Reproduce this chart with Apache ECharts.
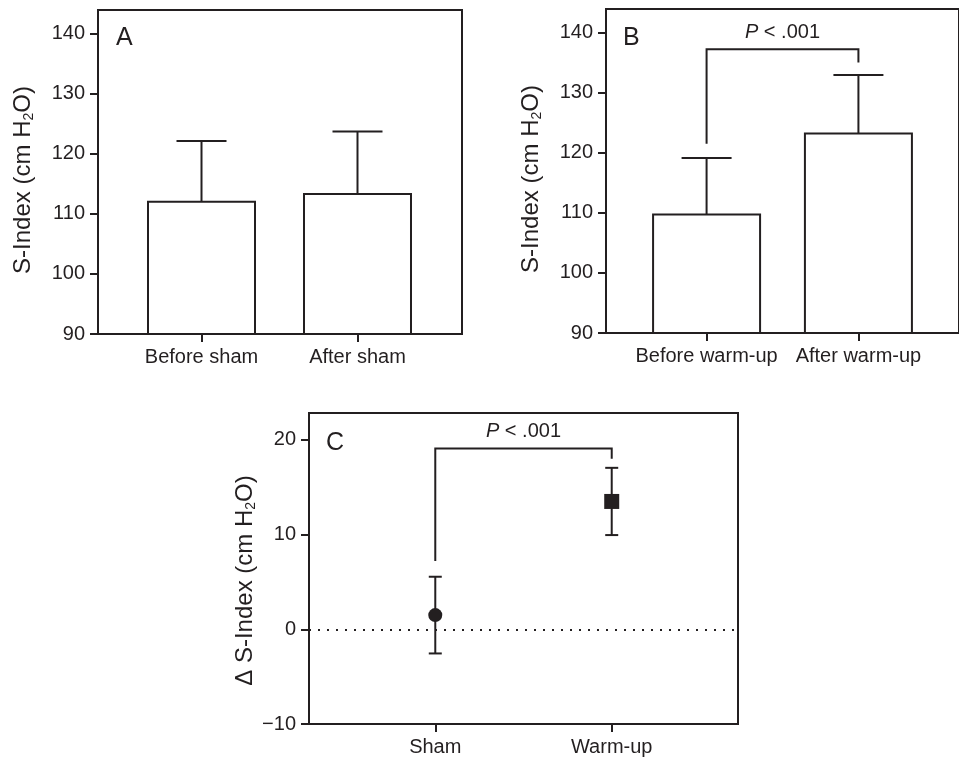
<!DOCTYPE html>
<html>
<head>
<meta charset="utf-8">
<script src="https://cdn.jsdelivr.net/npm/echarts@6/dist/echarts.min.js"></script>
<style>
  html, body { margin: 0; padding: 0; background: #fff; }
  #chart { width: 959px; height: 757px; }
</style>
</head>
<body>
<div id="chart"></div>
<script>
// panel A
var categoriesA = ['Before sham', 'After sham'];
var meanA = [112.0, 113.3];
var sdA = [10.1, 10.4];
// panel B
var categoriesB = ['Before warm-up', 'After warm-up'];
var meanB = [109.7, 123.2];
var sdB = [9.4, 9.7];
var bracketB = [121.5, 137.2, 135.0];   // left end, top, right end
// panel C
var categoriesC = ['Sham', 'Warm-up'];
var meanC = [1.5, 13.5];
var errC = [4.05, 3.55];
var bracketC = [7.2, 19.1, 18.0];
// tick labels
var yTicksAB = [90, 100, 110, 120, 130, 140];
var yTicksC = [-10, 0, 10, 20];

var INK = '#231f20';
var FONT = '"Liberation Sans", Arial, Helvetica, sans-serif';

var chart = echarts.init(document.getElementById('chart'));

function barRender(baseVal) {
    return function (params, api) {
        var x = api.value(0), v = api.value(1), e = api.value(2);
        var top = api.coord([x, v]);
        var base = api.coord([x, baseVal]);
        var errTop = api.coord([x, v + e]);
        var half = 53.5;
        var st = { stroke: INK, lineWidth: 2, fill: null };
        return {
            type: 'group',
            children: [
                { type: 'line', shape: { x1: top[0], y1: top[1], x2: errTop[0], y2: errTop[1] }, style: st },
                { type: 'line', shape: { x1: top[0] - 25, y1: errTop[1], x2: top[0] + 25, y2: errTop[1] }, style: st },
                { type: 'rect', shape: { x: top[0] - half, y: top[1], width: half * 2, height: base[1] - top[1] },
                  style: { fill: '#fff', stroke: INK, lineWidth: 2 } }
            ]
        };
    };
}

function bracketRender(params, api) {
    var p1 = api.coord([api.value(0), api.value(2)]);
    var p2 = api.coord([api.value(0), api.value(3)]);
    var p3 = api.coord([api.value(1), api.value(3)]);
    var p4 = api.coord([api.value(1), api.value(4)]);
    return {
        type: 'group',
        children: [
            { type: 'polyline', shape: { points: [p1, p2, p3, p4] },
              style: { stroke: INK, lineWidth: 2, fill: null } },
            { type: 'text', x: (p2[0] + p3[0]) / 2, y: p2[1] - 17,
              style: { text: '{i|P} < .001', fontSize: 20, fontFamily: FONT, fill: INK,
                       align: 'center', verticalAlign: 'middle',
                       rich: { i: { fontStyle: 'italic', fontSize: 20, fontFamily: FONT, fill: INK } } } }
        ]
    };
}

function errRender(params, api) {
    var x = api.value(0), v = api.value(1), e = api.value(2);
    var lo = api.coord([x, v - e]);
    var hi = api.coord([x, v + e]);
    var st = { stroke: INK, lineWidth: 2, fill: null };
    return {
        type: 'group',
        children: [
            { type: 'line', shape: { x1: lo[0], y1: lo[1], x2: hi[0], y2: hi[1] }, style: st },
            { type: 'line', shape: { x1: lo[0] - 6.5, y1: lo[1], x2: lo[0] + 6.5, y2: lo[1] }, style: st },
            { type: 'line', shape: { x1: hi[0] - 6.5, y1: hi[1], x2: hi[0] + 6.5, y2: hi[1] }, style: st }
        ]
    };
}

function xAxisOf(idx, min, max, cats) {
    return {
        type: 'value', gridIndex: idx, min: min, max: max,
        splitLine: { show: false },
        axisLine: { onZero: false, lineStyle: { color: INK, width: 2 } },
        axisTick: { customValues: [0, 1], length: 8, lineStyle: { color: INK, width: 2 } },
        axisLabel: { customValues: [0, 1], color: INK, fontSize: 20, fontFamily: FONT, margin: 13,
                     formatter: function (v) { return cats[Math.round(v)]; } }
    };
}

// shift: moves the rotated name down along the axis
function yAxisOf(idx, min, max, ticks, name, gap, shift) {
    return {
        type: 'value', gridIndex: idx, min: min, max: max,
        splitLine: { show: false },
        axisLine: { onZero: false, lineStyle: { color: INK, width: 2 } },
        axisTick: { customValues: ticks, length: 8, lineStyle: { color: INK, width: 2 } },
        axisLabel: { customValues: ticks, color: INK, fontSize: 20, fontFamily: FONT, margin: 13,
                     formatter: function (v) { return String(v).replace('-', '\u2212'); } },
        name: name, nameLocation: 'middle', nameRotate: 90, nameGap: gap,
        nameTextStyle: { color: INK, fontSize: 24, fontFamily: FONT, lineHeight: 26,
                         padding: [0, shift, 0, 0],
                         rich: { sub: { fontSize: 14, fontFamily: FONT, color: INK, lineHeight: 14,
                                        padding: [12, 0, 0, 0], verticalAlign: 'bottom' } } }
    };
}

var gridStyle = { show: true, borderColor: INK, borderWidth: 2, backgroundColor: 'transparent' };

var option = {
    animation: false,
    backgroundColor: '#fff',
    textStyle: { fontFamily: FONT },
    title: [
        { text: 'A', left: 111, top: 21, textStyle: { fontSize: 25, fontWeight: 'normal', color: INK, fontFamily: FONT } },
        { text: 'B', left: 618, top: 21, textStyle: { fontSize: 25, fontWeight: 'normal', color: INK, fontFamily: FONT } },
        { text: 'C', left: 321, top: 426, textStyle: { fontSize: 25, fontWeight: 'normal', color: INK, fontFamily: FONT } }
    ],
    grid: [
        Object.assign({ left: 98, top: 10, width: 364, height: 324 }, gridStyle),
        Object.assign({ left: 606, top: 9, right: -12, height: 324 }, gridStyle),
        Object.assign({ left: 309, top: 413, width: 429, height: 313 }, gridStyle)
    ],
    xAxis: [
        xAxisOf(0, -0.6635, 1.6699, categoriesA),
        xAxisOf(1, -0.6624, 1.6624, categoriesB),
        xAxisOf(2, -0.7157, 1.7157, categoriesC)
    ],
    yAxis: [
        yAxisOf(0, 90, 143.9, yTicksAB, 'S-Index (cm H{sub|2}O)', 62, 16),
        yAxisOf(1, 90, 143.9, yTicksAB, 'S-Index (cm H{sub|2}O)', 62, 16),
        yAxisOf(2, -10, 22.84, yTicksC, '\u0394 S-Index (cm H{sub|2}O)', 43, 24)
    ],
    series: [
        {
            type: 'custom', xAxisIndex: 0, yAxisIndex: 0,
            renderItem: barRender(90),
            data: categoriesA.map(function (c, i) { return [i, meanA[i], sdA[i]]; })
        },
        {
            type: 'custom', xAxisIndex: 1, yAxisIndex: 1,
            renderItem: barRender(90),
            data: categoriesB.map(function (c, i) { return [i, meanB[i], sdB[i]]; })
        },
        {
            type: 'custom', xAxisIndex: 1, yAxisIndex: 1,
            renderItem: bracketRender,
            data: [[0, 1, bracketB[0], bracketB[1], bracketB[2]]]
        },
        {
            type: 'custom', xAxisIndex: 2, yAxisIndex: 2,
            renderItem: bracketRender,
            data: [[0, 1, bracketC[0], bracketC[1], bracketC[2]]]
        },
        {
            type: 'custom', xAxisIndex: 2, yAxisIndex: 2,
            renderItem: errRender,
            data: categoriesC.map(function (c, i) { return [i, meanC[i], errC[i]]; })
        },
        {
            type: 'scatter', xAxisIndex: 2, yAxisIndex: 2, z: 5,
            itemStyle: { color: INK, opacity: 1 },
            data: categoriesC.map(function (c, i) {
                return { value: [i, meanC[i]], symbol: i === 0 ? 'circle' : 'rect', symbolSize: i === 0 ? 14 : 15 };
            }),
            markLine: {
                silent: true, symbol: ['none', 'none'], label: { show: false },
                lineStyle: { color: INK, width: 2, type: [2, 7] },
                data: [{ yAxis: 0 }]
            }
        }
    ]
};

chart.setOption(option);
</script>
</body>
</html>
